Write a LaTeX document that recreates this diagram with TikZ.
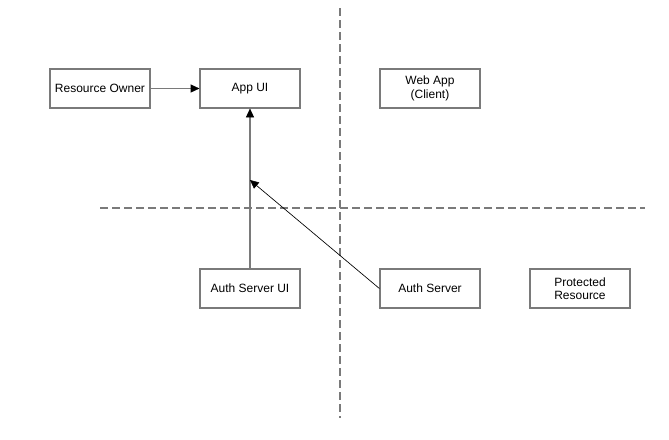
\documentclass[tikz,border=0pt]{standalone}
\usepackage{fontspec}
\setmainfont{Liberation Sans}
\usetikzlibrary{arrows.meta}
\definecolor{edgegray}{HTML}{7A7A7A}
\begin{document}
\begin{tikzpicture}[x=0.75pt,y=-0.75pt,
  box/.style={draw=edgegray,line width=0.9pt,fill=white,minimum width=75pt,minimum height=29.25pt,
    inner sep=0pt,align=center,font=\fontsize{9}{10}\selectfont},
  divider/.style={draw=edgegray,line width=1pt,dash pattern=on 6pt off 3pt},
  flow/.style={-{Triangle[length=6.5pt,width=6pt,color=black,line width=0.4pt]}}]
\useasboundingbox (0,0) rectangle (669,440);
% swimlane dividers
\coordinate (vtop) at (340,8);
\coordinate (vbot) at (340,418);
\coordinate (hleft) at (100,208);
\coordinate (hright) at (645,208);
\draw[divider] (vtop) -- (vbot);
\draw[divider] (hleft) -- (hright);
% components
\node[box] (owner) at (100,88.5) {Resource Owner};
\node[box] (appui) at (250,88.5) {App UI};
\node[box] (webapp) at (430,88.5) {Web App\\(Client)};
\node[box] (asui) at (250,288.5) {Auth Server UI};
\node[box] (as) at (430,288.5) {Auth Server};
\node[box] (pr) at (580,288.5) {Protected\\Resource};
% interactions
\coordinate (redirect) at (250,180);
\draw[flow,draw=edgegray,line width=1pt] (owner) -- (appui);
\draw[flow,draw=edgegray,line width=1pt] (asui) -- (appui);
\draw[flow,line width=0.5pt] (as.west) -- (redirect);
\end{tikzpicture}
\end{document}
